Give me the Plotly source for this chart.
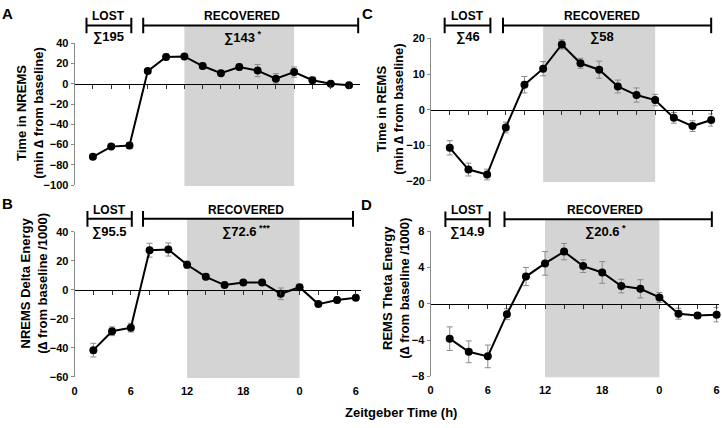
import plotly.graph_objects as go

# ---------------- data ----------------
zt_hours = [2, 4, 6, 8, 10, 12, 14, 16, 18, 20, 22, 24, 26, 28, 30]
x_tick_vals = [0, 6, 12, 18, 24, 30]
x_tick_text = ["0", "6", "12", "18", "0", "6"]

nrems_time = [-72, -62, -61, 12.5, 26.5, 27, 17.5, 10.5, 16.5, 13, 5, 11.5, 3.5, 0, -1.5]
nrems_time_err = [2, 2, 3, 2, 3, 2, 3, 2, 3, 6, 5, 5, 3, 2, 1]

nrems_delta = [-41.5, -28.5, -26, 27.3, 27.8, 17.3, 9, 3.3, 5, 5, -2.7, 1.8, -9.8, -7, -5.5]
nrems_delta_err = [4.7, 3, 3, 4.8, 4.5, 2.5, 2, 1.5, 1.5, 1.5, 4, 2, 1.5, 2, 1.5]

rems_time = [-10.7, -16.8, -18.2, -5, 7, 11.5, 18.3, 13, 11.2, 6.5, 4.1, 2.7, -2.3, -4.6, -2.9]
rems_time_err = [2, 1.8, 1.5, 1.5, 2.3, 2, 1.3, 1.4, 2.4, 1.8, 2, 1.6, 1.5, 1.5, 1.7]

rems_theta = [-3.85, -5.3, -5.8, -1.15, 3.0, 4.45, 5.75, 4.15, 3.45, 1.95, 1.65, 0.7, -1.1, -1.3, -1.2]
rems_theta_err = [1.3, 1.2, 1.25, 0.6, 1.0, 1.3, 0.9, 0.7, 1.2, 0.75, 1.0, 0.55, 0.6, 0.3, 0.8]

panel_letters = ["A", "B", "C", "D"]
y_titles = [
    "Time in NREMS<br>(min \u2206 from baseline)",
    "NREMS Delta Energy<br>(\u2206 from baseline /1000)",
    "Time in REMS<br>(min \u2206 from baseline)",
    "REMS Theta Energy<br>(\u2206 from baseline /1000)",
]
lost_labels = ["\u2211195", "\u221195.5", "\u221146", "\u221114.9"]
recovered_labels = ["\u2211143<sup> *</sup>", "\u221172.6<sup> ***</sup>", "\u221158", "\u221120.6<sup> *</sup>"]
y_ranges = [[-100, 40], [-60, 40], [-20, 20], [-8, 8]]
y_dticks = [20, 20, 10, 4]
series = [nrems_time, nrems_delta, rems_time, rems_theta]
series_err = [nrems_time_err, nrems_delta_err, rems_time_err, rems_theta_err]

# ---------------- layout geometry (pixels) ----------------
W, H = 722, 428
FONT = "Arial, Liberation Sans, sans-serif"

def fx(p):
    return p / W

def fy(p):
    return 1 - p / H

panels = [
    dict(dx=(72, 359), dy=(38.3, 184.3), xr=[0, 31.2], by=20, lost=(1.3, 6.2), rec=(7.5, 31.0),
         letter=(4.5, 7.5), title=(27, 110), txt_top=10, txt_sig=31.5, labels=False),
    dict(dx=(72, 359.5), dy=(232.3, 381.7), xr=[0, 30.5], by=219, lost=(1.37, 6.1), rec=(7.3, 29.7),
         letter=(4.5, 203), title=(31, 285), txt_top=209.5, txt_sig=231.5, labels=True),
    dict(dx=(430.5, 714), dy=(33.3, 180), xr=[0, 30.2], by=20, lost=(1.45, 6.35), rec=(7.7, 30.0),
         letter=(366.5, 8), title=(389, 106), txt_top=10, txt_sig=31.5, labels=False),
    dict(dx=(430, 719.5), dy=(231.7, 381), xr=[0, 30.2], by=219.3, lost=(1.55, 6.2), rec=(7.75, 29.5),
         letter=(366, 204), title=(395, 290), txt_top=209.5, txt_sig=231.5, labels=True),
]

fig = go.Figure()
layout = dict(
    width=W, height=H, margin=dict(l=0, r=0, t=0, b=0),
    paper_bgcolor="white", plot_bgcolor="rgba(0,0,0,0)",
    showlegend=False, font=dict(family=FONT, color="black"),
)
shapes = []
annotations = []

for i, p in enumerate(panels):
    n = i + 1
    xa = "x" if n == 1 else f"x{n}"
    ya = "y" if n == 1 else f"y{n}"
    xkey = "xaxis" if n == 1 else f"xaxis{n}"
    ykey = "yaxis" if n == 1 else f"yaxis{n}"
    zn = n + 4
    zkey = f"xaxis{zn}"
    yr = y_ranges[i]
    top, bot = p["dy"]
    zero_px = top + (yr[1] - 0) / (yr[1] - yr[0]) * (bot - top)

    layout[xkey] = dict(
        domain=[fx(p["dx"][0]), fx(p["dx"][1])], range=p["xr"], anchor=ya,
        showline=False, showgrid=False, zeroline=False, ticks="",
        tickmode="array", tickvals=x_tick_vals, ticktext=x_tick_text,
        showticklabels=p["labels"], tickfont=dict(size=11, family=FONT, color="black", weight="bold"),
        ticklabelstandoff=6,
    )
    layout[ykey] = dict(
        domain=[fy(bot), fy(top)], range=yr, anchor=xa,
        showline=True, linecolor="#8a8a8a", linewidth=1, showgrid=False, zeroline=False,
        ticks="outside", ticklen=3, tickcolor="#8a8a8a", tickwidth=1,
        tickmode="linear", tick0=yr[0], dtick=y_dticks[i],
        tickfont=dict(size=11, family=FONT, color="black", weight="bold"),
    )
    layout[zkey] = dict(
        overlaying=xa, anchor="free", position=fy(zero_px), side="bottom", range=p["xr"],
        showline=True, linecolor="black", linewidth=1, showgrid=False, zeroline=False,
        ticks="outside", ticklen=4, tickcolor="#333", tickwidth=1,
        tickmode="array", tickvals=zt_hours, showticklabels=False,
    )

    fig.add_trace(go.Scatter(x=[zt_hours[0]], y=[0], mode="markers", marker=dict(opacity=0),
                             xaxis=f"x{zn}", yaxis=ya, hoverinfo="skip"))
    fig.add_trace(go.Scatter(
        x=zt_hours, y=series[i], mode="lines+markers", xaxis=xa, yaxis=ya,
        line=dict(color="black", width=2),
        marker=dict(color="black", size=8),
        error_y=dict(type="data", array=series_err[i], color="#8c8c8c", thickness=1, width=3),
        hoverinfo="x+y", cliponaxis=False,
    ))

    shapes.append(dict(type="rect", xref=xa, yref="paper", x0=12, x1=24,
                       y0=fy(bot + 1), y1=fy(p["by"]), fillcolor="#d4d4d4",
                       line=dict(width=0), layer="below"))
    for (a, b) in (p["lost"], p["rec"]):
        shapes.append(dict(type="line", xref=xa, yref="paper", x0=a, x1=b,
                           y0=fy(p["by"]), y1=fy(p["by"]), line=dict(color="black", width=2)))
        for c in (a, b):
            shapes.append(dict(type="line", xref=xa, yref="paper", x0=c, x1=c,
                               y0=fy(p["by"] - 8), y1=fy(p["by"] + 8), line=dict(color="black", width=2)))
    lost_c = (p["lost"][0] + p["lost"][1]) / 2
    bold = dict(family=FONT, size=12, color="black", weight="bold")
    annotations += [
        dict(text="LOST", xref=xa, yref="paper", x=lost_c, y=fy(p["txt_top"]),
             showarrow=False, font=bold, xanchor="center", yanchor="middle"),
        dict(text=lost_labels[i], xref=xa, yref="paper", x=lost_c, y=fy(p["txt_sig"]),
             showarrow=False, font=dict(family=FONT, size=13, color="black", weight="bold"),
             xanchor="center", yanchor="middle"),
        dict(text="RECOVERED", xref=xa, yref="paper", x=18.3, y=fy(p["txt_top"]),
             showarrow=False, font=bold, xanchor="center", yanchor="middle"),
        dict(text=recovered_labels[i], xref=xa, yref="paper", x=18.3, y=fy(p["txt_sig"]),
             showarrow=False, font=dict(family=FONT, size=13, color="black", weight="bold"),
             xanchor="center", yanchor="middle"),
        dict(text=panel_letters[i], xref="paper", yref="paper", x=fx(p["letter"][0]), y=fy(p["letter"][1]),
             showarrow=False, font=dict(family=FONT, size=15, color="black", weight="bold"),
             xanchor="center", yanchor="middle"),
        dict(text=y_titles[i], xref="paper", yref="paper", x=fx(p["title"][0]), y=fy(p["title"][1]),
             showarrow=False, textangle=-90, font=dict(family=FONT, size=13, color="black", weight="bold"),
             xanchor="center", yanchor="middle"),
    ]

annotations.append(dict(text="Zeitgeber Time (h)", xref="paper", yref="paper", x=fx(400), y=fy(418),
                        showarrow=False, font=dict(family=FONT, size=13, color="black", weight="bold"),
                        xanchor="center", yanchor="middle"))

layout["shapes"] = shapes
layout["annotations"] = annotations
fig.update_layout(**layout)
fig.write_html("out.html", config={"displayModeBar": False},
               post_script="document.body.style.margin='0';document.body.style.overflow='hidden';")
